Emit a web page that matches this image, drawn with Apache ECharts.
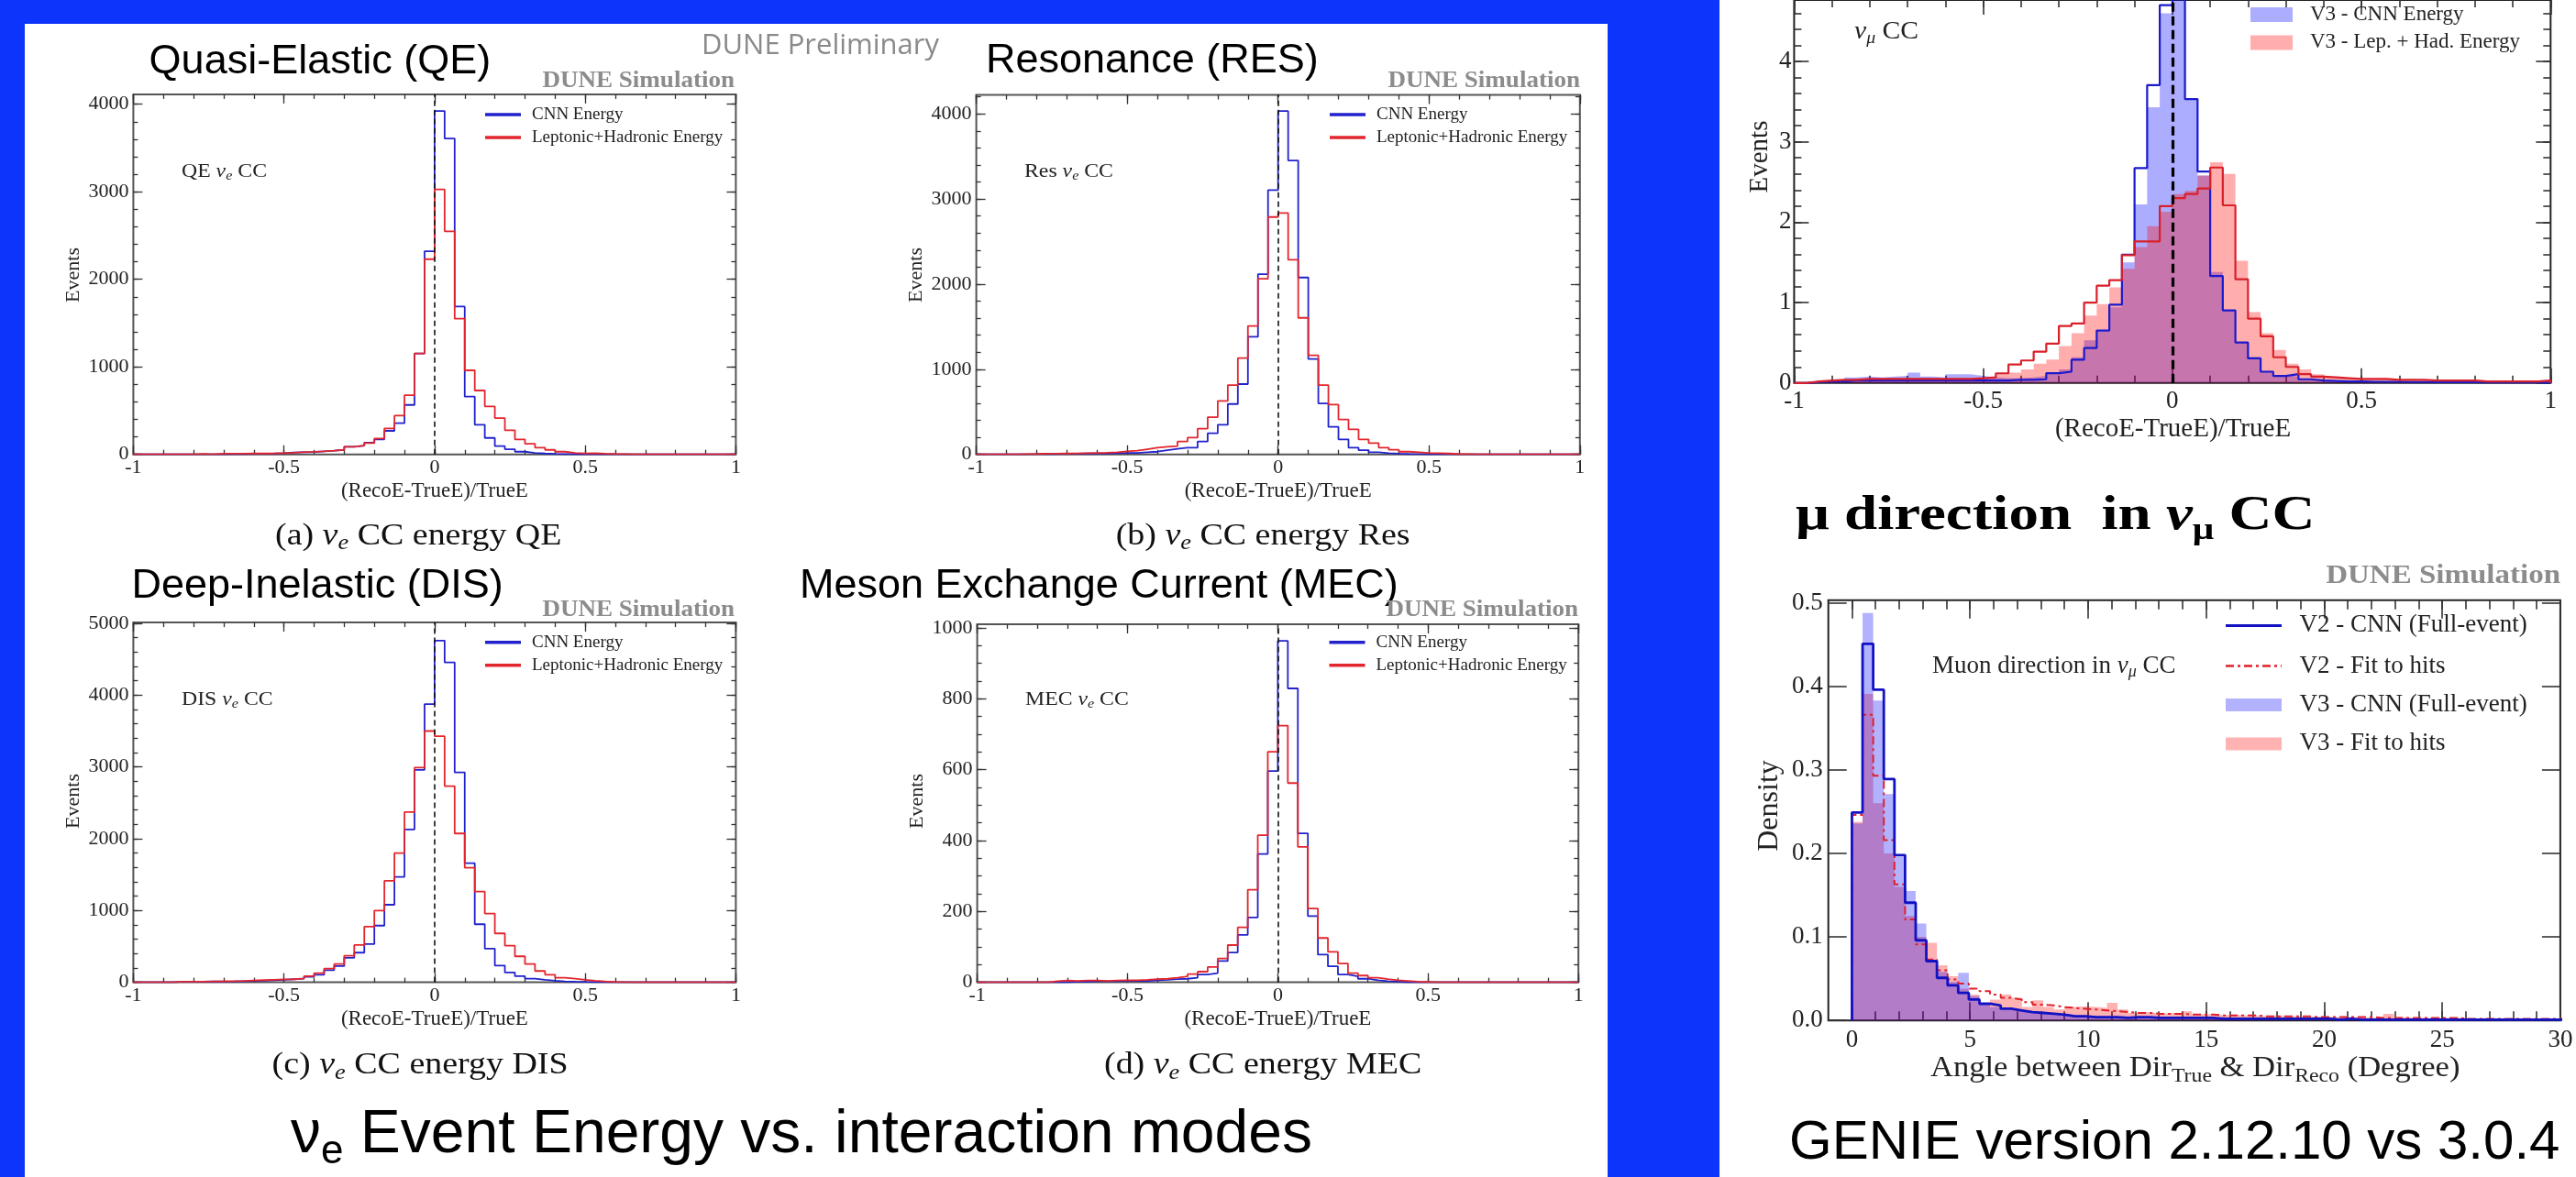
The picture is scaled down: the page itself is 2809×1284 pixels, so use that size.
<!DOCTYPE html>
<html><head><meta charset="utf-8">
<script src="https://cdn.jsdelivr.net/npm/echarts@6.0.0/dist/echarts.min.js"></script>
<style>html,body{margin:0;padding:0;background:#0c34fa;overflow:hidden}#c{width:2809px;height:1284px}</style>
</head><body><div id="c"></div>
<script>
// ================= DATA =================
const energyBinStart = -1;
const energyBinWidth = 1 / 30;
const dirBinStart = 0;
const dirBinWidth = 0.45;

const qeCNN = [0,0,0,0,0,0,0,0,2,3, 4,6,8,10,14,22,25,28,35,42, 52,87,101,135,171,269,356,565,1152,2321, 3923,3609,1689,660,339,188,94,59,31,17, 10,6,4,2,1,0,0,0,0,0, 0,0,0,0,0,0,0,0,0,0];
const qeLepHad = [0,0,0,0,0,0,6,0,8,8, 8,10,10,12,15,20,28,30,35,42, 52,87,101,129,181,297,443,677,1152,2230, 3026,2548,1550,960,730,548,415,276,171,122, 77,52,31,17,12,14,8,5,3,0, 0,0,0,0,0,0,0,0,0,0];
const resCNN = [0,0,0,0,0,3,5,5,6,8, 10,12,13,15,18,18,25,32,50,65, 78,80,151,248,348,592,826,1382,2118,3105, 4034,3453,2078,1120,599,323,176,79,50,25, 14,8,5,3,2,0,0,0,0,0, 0,0,0,0,0,0,0,0,0,0];
const resLepHad = [0,0,0,0,3,5,8,8,10,12, 15,18,20,25,35,43,61,79,90,97, 151,197,302,438,628,815,1131,1508,2064,2789, 2836,2286,1604,1163,815,585,409,294,176,133, 79,54,32,25,18,14,10,5,3,0, 0,0,0,0,0,0,0,0,0,0];
const disCNN = [0,0,0,0,10,10,10,12,10,12, 15,18,22,28,35,43,51,77,106,170, 226,340,413,532,790,1080,1469,2129,2960,3874, 4760,4457,2925,1660,809,468,234,136,85,51, 34,21,13,8,5,3,2,0,0,0, 0,0,0,0,0,0,0,0,0,0];
const disLepHad = [0,0,0,0,8,8,10,12,14,16, 20,25,30,35,40,43,55,85,128,192, 255,370,519,775,1000,1413,1801,2371,2990,3500, 3427,2733,2073,1596,1264,958,681,511,362,255, 158,106,64,51,34,21,12,6,2,0, 0,0,0,0,0,0,0,0,0,0];
const mecCNN = [0,0,0,0,0,0,0,0,0,2, 2,3,3,3,4,4,4,6,7,9, 10,13,22,26,60,84,134,183,362,596, 963,829,420,187,78,45,22,17,10,6, 3,2,0,0,0,0,0,0,0,0, 0,0,0,0,0,0,0,0,0,0];
const mecLepHad = [0,0,0,0,0,0,0,3,5,4, 5,5,4,5,6,6,7,9,10,13, 17,23,30,43,67,105,155,261,415,650, 724,562,382,208,125,86,53,26,19,13, 9,6,4,2,1,0,0,0,0,0, 0,0,0,0,0,0,0,0,0,0];

const numuV2CNN = [0,0.01,0.02,0.02,0.03,0.03,0.03,0.03,0.03,0.03, 0.03,0.03,0.03,0.03,0.03,0.03,0.03,0.04,0.04,0.046, 0.122,0.14,0.289,0.435,0.653,0.973,1.597,2.673,3.706,4.7, 4.9,3.532,2.63,1.33,0.903,0.504,0.307,0.14,0.088,0.11, 0.046,0.03,0.025,0.02,0.02,0.015,0.015,0.015,0.012,0.012, 0.01,0.01,0.01,0.01,0.008,0.008,0.008,0.006,0.006,0.005];
const numuV2LepHad = [0,0.02,0.03,0.04,0.04,0.05,0.05,0.05,0.05,0.05, 0.05,0.05,0.05,0.05,0.06,0.07,0.12,0.23,0.28,0.39, 0.49,0.71,0.74,1.0,1.21,1.28,1.59,1.76,1.76,2.2, 2.3,2.35,2.42,2.68,2.21,1.29,0.8,0.58,0.32,0.2, 0.11,0.08,0.07,0.06,0.05,0.05,0.05,0.04,0.04,0.04, 0.03,0.03,0.03,0.03,0.02,0.02,0.02,0.02,0.02,0.03];
const numuV3CNN = [0,0.02,0.02,0.03,0.07,0.08,0.07,0.08,0.09,0.13, 0.08,0.07,0.11,0.11,0.09,0.07,0.06,0.06,0.07,0.09, 0.13,0.17,0.32,0.53,0.64,0.94,1.5,2.22,3.43,4.6, 4.8,3.52,2.58,1.38,0.91,0.5,0.32,0.15,0.1,0.08, 0.05,0.04,0.03,0.03,0.03,0.02,0.02,0.02,0.02,0.02, 0.015,0.015,0.015,0.01,0.01,0.01,0.01,0.01,0.01,0.01];
const numuV3LepHad = [0,0.02,0.03,0.04,0.05,0.05,0.06,0.06,0.06,0.06, 0.06,0.06,0.06,0.06,0.06,0.07,0.1,0.13,0.17,0.24, 0.29,0.46,0.62,0.84,0.98,1.19,1.42,1.69,1.95,2.13, 2.35,2.39,2.58,2.745,2.6,1.52,0.88,0.62,0.41,0.24, 0.17,0.11,0.07,0.06,0.05,0.05,0.05,0.04,0.05,0.04, 0.04,0.04,0.03,0.04,0.03,0.03,0.03,0.03,0.03,0.04];

const dirV2CNN = [0.249,0.451,0.396,0.289,0.198,0.141,0.096,0.071,0.051,0.042, 0.033,0.025,0.020,0.018,0.014,0.012,0.010,0.009,0.008,0.007, 0.005,0.005,0.004,0.004,0.004,0.003,0.004,0.004,0.003,0.003, 0.003,0.003,0.003,0.003,0.002,0.002,0.002,0.002,0.002,0.002, 0.002,0.002,0.002,0.002,0.002,0.001,0.002,0.001,0.001,0.001, 0.001,0.001,0.001,0.001,0.001,0.001,0.001,0.001,0.001,0.001, 0.001,0.001,0.001,0.001,0.001,0.001,0.001];
const dirV2Fit = [0.246,0.366,0.293,0.216,0.163,0.121,0.091,0.073,0.060,0.049, 0.044,0.038,0.035,0.031,0.027,0.025,0.022,0.019,0.018,0.016, 0.015,0.014,0.013,0.012,0.011,0.010,0.009,0.009,0.008,0.008, 0.008,0.007,0.007,0.007,0.006,0.006,0.006,0.006,0.005,0.005, 0.005,0.005,0.005,0.004,0.004,0.004,0.004,0.004,0.004,0.003, 0.003,0.003,0.003,0.003,0.003,0.003,0.003,0.002,0.002,0.002, 0.002,0.002,0.002,0.002,0.002,0.002,0.002];
const dirV3CNN = [0.236,0.488,0.383,0.271,0.196,0.155,0.116,0.071,0.058,0.046, 0.057,0.029,0.020,0.016,0.013,0.011,0.010,0.009,0.008,0.007, 0.006,0.006,0.005,0.005,0.004,0.004,0.004,0.004,0.003,0.003, 0.003,0.003,0.003,0.003,0.003,0.002,0.002,0.002,0.002,0.002, 0.002,0.002,0.002,0.002,0.002,0.002,0.001,0.001,0.001,0.001, 0.001,0.001,0.001,0.001,0.001,0.001,0.001,0.001,0.001,0.001, 0.001,0.001,0.001,0.001,0.001,0.001,0.001];
const dirV3Fit = [0.238,0.391,0.26,0.2,0.16,0.125,0.1,0.093,0.066,0.053, 0.038,0.031,0.020,0.025,0.031,0.027,0.016,0.024,0.016,0.013, 0.016,0.017,0.016,0.015,0.021,0.013,0.009,0.010,0.008,0.009, 0.008,0.011,0.007,0.008,0.006,0.007,0.006,0.006,0.005,0.006, 0.005,0.005,0.004,0.005,0.004,0.004,0.004,0.004,0.003,0.004, 0.008,0.004,0.003,0.003,0.003,0.003,0.003,0.003,0.002,0.003, 0.002,0.002,0.002,0.002,0.002,0.002,0.002];

// tick label arrays
const energyXTicks = [-1, -0.5, 0, 0.5, 1];
const qeYTicks = [0, 1000, 2000, 3000, 4000];
const resYTicks = [0, 1000, 2000, 3000, 4000];
const disYTicks = [0, 1000, 2000, 3000, 4000, 5000];
const mecYTicks = [0, 200, 400, 600, 800, 1000];
const numuYTicks = [0, 1, 2, 3, 4];
const dirXTicks = [0, 5, 10, 15, 20, 25, 30];
const dirYTicks = [0, 0.1, 0.2, 0.3, 0.4, 0.5];

// ================= HELPERS =================
const SERIF = "'Liberation Serif','Times New Roman',serif";
const SANS = "'Liberation Sans',Arial,sans-serif";
const BLUE = '#2222cc', RED = '#e2262e';
function font(size, fam, weight, style) { return (style || 'normal') + ' ' + (weight || 'normal') + ' ' + size + 'px ' + fam; }
function range(a, b, s) { const r = []; for (let v = a; v <= b + 1e-9; v += s) r.push(Math.round(v * 1e6) / 1e6); return r; }
function hist(values, start, width) {
  const d = [[start, 0]];
  values.forEach((v, i) => d.push([Math.round((start + i * width) * 1e9) / 1e9, v]));
  const end = start + values.length * width;
  d.push([end, values[values.length - 1]]);
  d.push([end, 0]);
  return d;
}
const _ctx = document.createElement('canvas').getContext('2d');
function measure(t, f) { _ctx.font = f; return _ctx.measureText(t).width; }
const G = [];
function textRun(parts, x, y, align, sx, color) {
  sx = sx || 1;
  const w = parts.map(p => measure(p.t, p.f) * sx);
  const tot = w.reduce((a, b) => a + b, 0);
  let cx = align === 'center' ? x - tot / 2 : (align === 'right' ? x - tot : x);
  parts.forEach((p, i) => {
    G.push({ type: 'text', x: cx, y: y + (p.dy || 0), scaleX: sx, z: 100,
      style: { text: p.t, font: p.f, fill: p.c || color || '#111', align: 'left', verticalAlign: 'middle', textAlign: 'left', textVerticalAlign: 'middle' } });
    cx += w[i];
  });
}
function rotText(t, f, x, y, color) {
  G.push({ type: 'text', x: x, y: y, rotation: Math.PI / 2, z: 100,
    style: { text: t, font: f, fill: color || '#111', align: 'center', verticalAlign: 'middle', textAlign: 'center', textVerticalAlign: 'middle' } });
}

const option = { animation: false, backgroundColor: '#0c34fa', grid: [], xAxis: [], yAxis: [], series: [], graphic: { elements: G } };

function addFrame(c) {
  const gi = option.grid.length;
  option.grid.push({ left: c.left, top: c.top, width: c.width, height: c.height, show: true,
    borderColor: c.frameColor || '#444', borderWidth: c.frameWidth || 2, backgroundColor: 'rgba(0,0,0,0)', containLabel: false });
  const mk = (dim, pos, values, len, labels) => {
    const mn = dim === 'x' ? c.xMin : c.yMin, mx = dim === 'x' ? c.xMax : c.yMax;
    const vals = values.filter(v => v >= mn - 1e-9 && v <= mx + 1e-9);
    const ax = { gridIndex: gi, type: 'value', position: pos, min: mn, max: mx,
      axisLine: { show: false, onZero: false }, splitLine: { show: false }, minorTick: { show: false },
      axisPointer: { show: false },
      axisTick: { show: vals.length > 0, inside: true, length: len, customValues: vals, lineStyle: { color: '#333', width: c.tickWidth || 1.3 } },
      axisLabel: labels ? { show: true, customValues: labels, formatter: dim === 'x' ? c.xFmt : c.yFmt,
        margin: dim === 'x' ? c.xMargin : c.yMargin, fontFamily: SERIF, fontSize: c.labelSize, color: '#222' } : { show: false } };
    const arr = dim === 'x' ? option.xAxis : option.yAxis;
    arr.push(ax); return arr.length - 1;
  };
  const xi = mk('x', 'bottom', c.xMajor, c.tMaj, c.xMajor);
  mk('x', 'bottom', c.xMinor, c.tMin, null);
  mk('x', 'top', c.xMajor, c.tMaj, null);
  mk('x', 'top', c.xMinor, c.tMin, null);
  const yi = mk('y', 'left', c.yMajor, c.tMaj, c.yMajor);
  mk('y', 'left', c.yMinor, c.tMin, null);
  mk('y', 'right', c.yMajor, c.tMaj, null);
  mk('y', 'right', c.yMinor, c.tMin, null);
  return { xi, yi };
}

// ================= BACKGROUND PANELS =================
G.push({ type: 'rect', z: -10, shape: { x: 27, y: 26, width: 1726, height: 1258 }, style: { fill: '#ffffff' } });
G.push({ type: 'rect', z: -10, shape: { x: 1875, y: 0, width: 934, height: 1284 }, style: { fill: '#ffffff' } });

// ================= ENERGY PLOTS =================
const energyPlots = [
  { tag: 'QE', cnn: qeCNN, lep: qeLepHad, left: 145.4, top: 102.9, width: 657, height: 392.8, yMax: 4113, yTicks: qeYTicks, yMinorStep: 200,
    title: 'Quasi-Elastic (QE)', tx: 162.6, ty: 68, cap: '(a) ', capEnd: ' CC energy QE', cx: 300, cy: 585.4, lab: 'QE ', lx: 198, ly: 187.5,
    simR: 801, simY: 88.6, legX: 529, legY: 125, evX: 80, evY: 300 },
  { tag: 'RES', cnn: resCNN, lep: resLepHad, left: 1064.6, top: 103.6, width: 658.2, height: 392.1, yMax: 4223, yTicks: resYTicks, yMinorStep: 200,
    title: 'Resonance (RES)', tx: 1075, ty: 67, cap: '(b) ', capEnd: ' CC energy Res', cx: 1216.7, cy: 585.4, lab: 'Res ', lx: 1117, ly: 187.5,
    simR: 1723, simY: 88.6, legX: 1450, legY: 125, evX: 999, evY: 300 },
  { tag: 'DIS', cnn: disCNN, lep: disLepHad, left: 145.4, top: 679.1, width: 657, height: 392.5, yMax: 5012, yTicks: disYTicks, yMinorStep: 200,
    title: 'Deep-Inelastic (DIS)', tx: 143.5, ty: 640, cap: '(c) ', capEnd: ' CC energy DIS', cx: 296.6, cy: 1162.5, lab: 'DIS ', lx: 198, ly: 763,
    simR: 801, simY: 665, legX: 529, legY: 700.8, evX: 80, evY: 874 },
  { tag: 'MEC', cnn: mecCNN, lep: mecLepHad, left: 1065.6, top: 681, width: 655.6, height: 390.6, yMax: 1010, yTicks: mecYTicks, yMinorStep: 50,
    title: 'Meson Exchange Current (MEC)', tx: 872, ty: 640, cap: '(d) ', capEnd: ' CC energy MEC', cx: 1204, cy: 1162.5, lab: 'MEC ', lx: 1118, ly: 763,
    simR: 1721, simY: 665, legX: 1449.5, legY: 700.8, evX: 1000, evY: 874 }
];

energyPlots.forEach(p => {
  const ax = addFrame({ left: p.left, top: p.top, width: p.width, height: p.height,
    xMin: -1, xMax: 1, yMin: 0, yMax: p.yMax, xMajor: energyXTicks, xMinor: range(-1, 1, 0.1),
    yMajor: p.yTicks, yMinor: range(0, p.yMax, p.yMinorStep), tMaj: 10, tMin: 5,
    xFmt: v => String(v), yFmt: v => String(v), xMargin: 4, yMargin: 5, labelSize: 22, frameColor: '#555', frameWidth: 2 });
  option.series.push({ type: 'line', name: p.tag + ' CNN Energy', xAxisIndex: ax.xi, yAxisIndex: ax.yi, step: 'end', symbol: 'none',
    data: hist(p.cnn, energyBinStart, energyBinWidth), lineStyle: { color: BLUE, width: 1.8 }, z: 3 });
  option.series.push({ type: 'line', name: p.tag + ' Leptonic+Hadronic Energy', xAxisIndex: ax.xi, yAxisIndex: ax.yi, step: 'end', symbol: 'none',
    data: hist(p.lep, energyBinStart, energyBinWidth), lineStyle: { color: RED, width: 1.8 }, z: 4,
    markLine: { silent: true, symbol: ['none', 'none'], label: { show: false }, lineStyle: { type: [6, 4], color: '#111', width: 1.6 }, data: [{ xAxis: 0 }] } });
  // texts
  textRun([{ t: p.title, f: font(45, SANS) }], p.tx, p.ty, 'left', 1, '#000');
  textRun([{ t: 'DUNE Simulation', f: font(26, SERIF, 'bold') }], p.simR, p.simY, 'right', 1.04, '#8c8c8c');
  textRun([{ t: p.cap, f: font(33, SERIF) }, { t: 'ν', f: font(33, SERIF, 'normal', 'italic') }, { t: 'e', f: font(23, SERIF, 'normal', 'italic'), dy: 8 }, { t: p.capEnd, f: font(33, SERIF) }], p.cx, p.cy, 'left', 1.15, '#111');
  textRun([{ t: p.lab, f: font(22, SERIF) }, { t: 'ν', f: font(22, SERIF, 'normal', 'italic') }, { t: 'e', f: font(15, SERIF, 'normal', 'italic'), dy: 5 }, { t: ' CC', f: font(22, SERIF) }], p.lx, p.ly, 'left', 1.08, '#222');
  G.push({ type: 'line', z: 100, shape: { x1: p.legX, y1: p.legY, x2: p.legX + 39, y2: p.legY }, style: { stroke: BLUE, lineWidth: 3.5 } });
  G.push({ type: 'line', z: 100, shape: { x1: p.legX, y1: p.legY + 25, x2: p.legX + 39, y2: p.legY + 25 }, style: { stroke: RED, lineWidth: 3.5 } });
  textRun([{ t: 'CNN Energy', f: font(19, SERIF) }], p.legX + 51, p.legY, 'left', 1, '#222');
  textRun([{ t: 'Leptonic+Hadronic Energy', f: font(19, SERIF) }], p.legX + 51, p.legY + 25, 'left', 1, '#222');
  textRun([{ t: '(RecoE-TrueE)/TrueE', f: font(23, SERIF) }], p.left + p.width / 2, p.top + p.height + 40, 'center', 1, '#222');
  rotText('Events', font(22, SERIF), p.evX, p.evY, '#222');
});

// ================= NUMU ENERGY (right top) =================
(function () {
  const ax = addFrame({ left: 1956.4, top: -40, width: 824.9, height: 457.8, xMin: -1, xMax: 1, yMin: 0, yMax: 4.764,
    xMajor: energyXTicks, xMinor: range(-1, 1, 0.1), yMajor: numuYTicks, yMinor: range(0, 4.764, 0.2), tMaj: 16, tMin: 8,
    xFmt: v => String(v), yFmt: v => String(v), xMargin: 7, yMargin: 3, labelSize: 27, frameColor: '#222', frameWidth: 2, tickWidth: 1.6 });
  option.series.push({ type: 'line', name: 'V3 - CNN Energy', xAxisIndex: ax.xi, yAxisIndex: ax.yi, step: 'end', symbol: 'none',
    data: hist(numuV3CNN, energyBinStart, energyBinWidth), lineStyle: { opacity: 0, width: 0 }, areaStyle: { color: 'rgba(0,0,255,0.32)', opacity: 1 }, z: 2 });
  option.series.push({ type: 'line', name: 'V3 - Lep. + Had. Energy', xAxisIndex: ax.xi, yAxisIndex: ax.yi, step: 'end', symbol: 'none',
    data: hist(numuV3LepHad, energyBinStart, energyBinWidth), lineStyle: { opacity: 0, width: 0 }, areaStyle: { color: 'rgba(255,0,0,0.32)', opacity: 1 }, z: 2 });
  option.series.push({ type: 'line', name: 'V2 - CNN Energy', xAxisIndex: ax.xi, yAxisIndex: ax.yi, step: 'end', symbol: 'none',
    data: hist(numuV2CNN, energyBinStart, energyBinWidth), lineStyle: { color: '#1a1acd', width: 2.2 }, z: 3 });
  option.series.push({ type: 'line', name: 'V2 - Lep. + Had. Energy', xAxisIndex: ax.xi, yAxisIndex: ax.yi, step: 'end', symbol: 'none',
    data: hist(numuV2LepHad, energyBinStart, energyBinWidth), lineStyle: { color: '#d8202a', width: 2.2 }, z: 4,
    markLine: { silent: true, symbol: ['none', 'none'], label: { show: false }, lineStyle: { type: [10, 5], color: '#000', width: 3.2 }, data: [{ xAxis: 0 }] } });
  G.push({ type: 'rect', z: 100, shape: { x: 2454, y: 8, width: 46, height: 16 }, style: { fill: 'rgba(0,0,255,0.32)' } });
  G.push({ type: 'rect', z: 100, shape: { x: 2454, y: 38.4, width: 46, height: 16 }, style: { fill: 'rgba(255,0,0,0.32)' } });
  textRun([{ t: 'V3 - CNN Energy', f: font(23, SERIF) }], 2519, 16, 'left', 1, '#222');
  textRun([{ t: 'V3 - Lep. + Had. Energy', f: font(23, SERIF) }], 2519, 46.4, 'left', 1, '#222');
  textRun([{ t: 'ν', f: font(27, SERIF, 'normal', 'italic') }, { t: 'μ', f: font(18, SERIF, 'normal', 'italic'), dy: 7 }, { t: ' CC', f: font(27, SERIF) }], 2022, 35, 'left', 1.1, '#222');
  textRun([{ t: '(RecoE-TrueE)/TrueE', f: font(29, SERIF) }], 2369.5, 468, 'center', 1, '#222');
  rotText('Events', font(29, SERIF), 1919, 171, '#222');
  textRun([{ t: 'μ direction  in ', f: font(52, SERIF, 'bold') }, { t: 'ν', f: font(52, SERIF, 'bold', 'italic') }, { t: 'μ', f: font(33, SERIF, 'bold'), dy: 15 }, { t: ' CC', f: font(52, SERIF, 'bold') }], 1958, 564, 'left', 1.25, '#000');
})();

// ================= MUON DIRECTION (right bottom) =================
(function () {
  const ax = addFrame({ left: 1993.7, top: 654.8, width: 798.2, height: 458.4, xMin: -1, xMax: 30, yMin: 0, yMax: 0.5032,
    xMajor: dirXTicks, xMinor: range(0, 30, 1), yMajor: dirYTicks, yMinor: [], tMaj: 20, tMin: 10,
    xFmt: v => String(v), yFmt: v => v.toFixed(1), xMargin: 8, yMargin: 6, labelSize: 27, frameColor: '#222', frameWidth: 2, tickWidth: 1.6 });
  option.series.push({ type: 'line', name: 'V3 - Fit to hits', xAxisIndex: ax.xi, yAxisIndex: ax.yi, step: 'end', symbol: 'none',
    data: hist(dirV3Fit, dirBinStart, dirBinWidth), lineStyle: { opacity: 0, width: 0 }, areaStyle: { color: 'rgba(255,0,0,0.3)', opacity: 1 }, z: 2 });
  option.series.push({ type: 'line', name: 'V3 - CNN (Full-event)', xAxisIndex: ax.xi, yAxisIndex: ax.yi, step: 'end', symbol: 'none',
    data: hist(dirV3CNN, dirBinStart, dirBinWidth), lineStyle: { opacity: 0, width: 0 }, areaStyle: { color: 'rgba(0,0,255,0.3)', opacity: 1 }, z: 2 });
  option.series.push({ type: 'line', name: 'V2 - Fit to hits', xAxisIndex: ax.xi, yAxisIndex: ax.yi, step: 'end', symbol: 'none',
    data: hist(dirV2Fit, dirBinStart, dirBinWidth), lineStyle: { color: '#e0202a', width: 2, type: [9, 4, 3, 4] }, z: 3 });
  option.series.push({ type: 'line', name: 'V2 - CNN (Full-event)', xAxisIndex: ax.xi, yAxisIndex: ax.yi, step: 'end', symbol: 'none',
    data: hist(dirV2CNN, dirBinStart, dirBinWidth), lineStyle: { color: '#1212c2', width: 2.8 }, z: 4 });
  G.push({ type: 'line', z: 100, shape: { x1: 2427, y1: 682.4, x2: 2488, y2: 682.4 }, style: { stroke: '#1212c2', lineWidth: 3 } });
  G.push({ type: 'line', z: 100, shape: { x1: 2427, y1: 726.5, x2: 2488, y2: 726.5 }, style: { stroke: '#e0202a', lineWidth: 2.5, lineDash: [9, 4, 3, 4] } });
  G.push({ type: 'rect', z: 100, shape: { x: 2427, y: 762, width: 61, height: 14 }, style: { fill: 'rgba(0,0,255,0.3)' } });
  G.push({ type: 'rect', z: 100, shape: { x: 2427, y: 804.4, width: 61, height: 14 }, style: { fill: 'rgba(255,0,0,0.3)' } });
  textRun([{ t: 'V2 - CNN (Full-event)', f: font(27, SERIF) }], 2507.5, 682.4, 'left', 1, '#222');
  textRun([{ t: 'V2 - Fit to hits', f: font(27, SERIF) }], 2507.5, 726.5, 'left', 1, '#222');
  textRun([{ t: 'V3 - CNN (Full-event)', f: font(27, SERIF) }], 2507.5, 769.2, 'left', 1, '#222');
  textRun([{ t: 'V3 - Fit to hits', f: font(27, SERIF) }], 2507.5, 811.4, 'left', 1, '#222');
  textRun([{ t: 'Muon direction in ', f: font(27, SERIF) }, { t: 'ν', f: font(27, SERIF, 'normal', 'italic') }, { t: 'μ', f: font(18, SERIF, 'normal', 'italic'), dy: 7 }, { t: ' CC', f: font(27, SERIF) }], 2107, 726.5, 'left', 1, '#222');
  textRun([{ t: 'DUNE Simulation', f: font(30, SERIF, 'bold') }], 2792, 627.8, 'right', 1.1, '#8c8c8c');
  textRun([{ t: 'Angle between Dir', f: font(32, SERIF) }, { t: 'True', f: font(22, SERIF), dy: 8 }, { t: ' & Dir', f: font(32, SERIF) }, { t: 'Reco', f: font(22, SERIF), dy: 8 }, { t: ' (Degree)', f: font(32, SERIF) }], 2393.7, 1166, 'center', 1.08, '#222');
  rotText('Density', font(32, SERIF), 1929.5, 879, '#222');
})();

// ================= SLIDE TITLES =================
textRun([{ t: 'DUNE Preliminary', f: font(31, "'Open Sans',sans-serif") }], 765, 50, 'left', 1, '#8a8a8a');
textRun([{ t: 'ν', f: font(66, SANS) }, { t: 'e', f: font(44, SANS), dy: 18 }, { t: ' Event Energy vs. interaction modes', f: font(66, SANS) }], 317, 1239, 'left', 1, '#000');
textRun([{ t: 'GENIE version 2.12.10 vs 3.0.4', f: font(60, SANS) }], 1951, 1247, 'left', 1, '#000');

const chart = echarts.init(document.getElementById('c'), null, { renderer: 'canvas', width: 2809, height: 1284 });
chart.setOption(option);
</script></body></html>
